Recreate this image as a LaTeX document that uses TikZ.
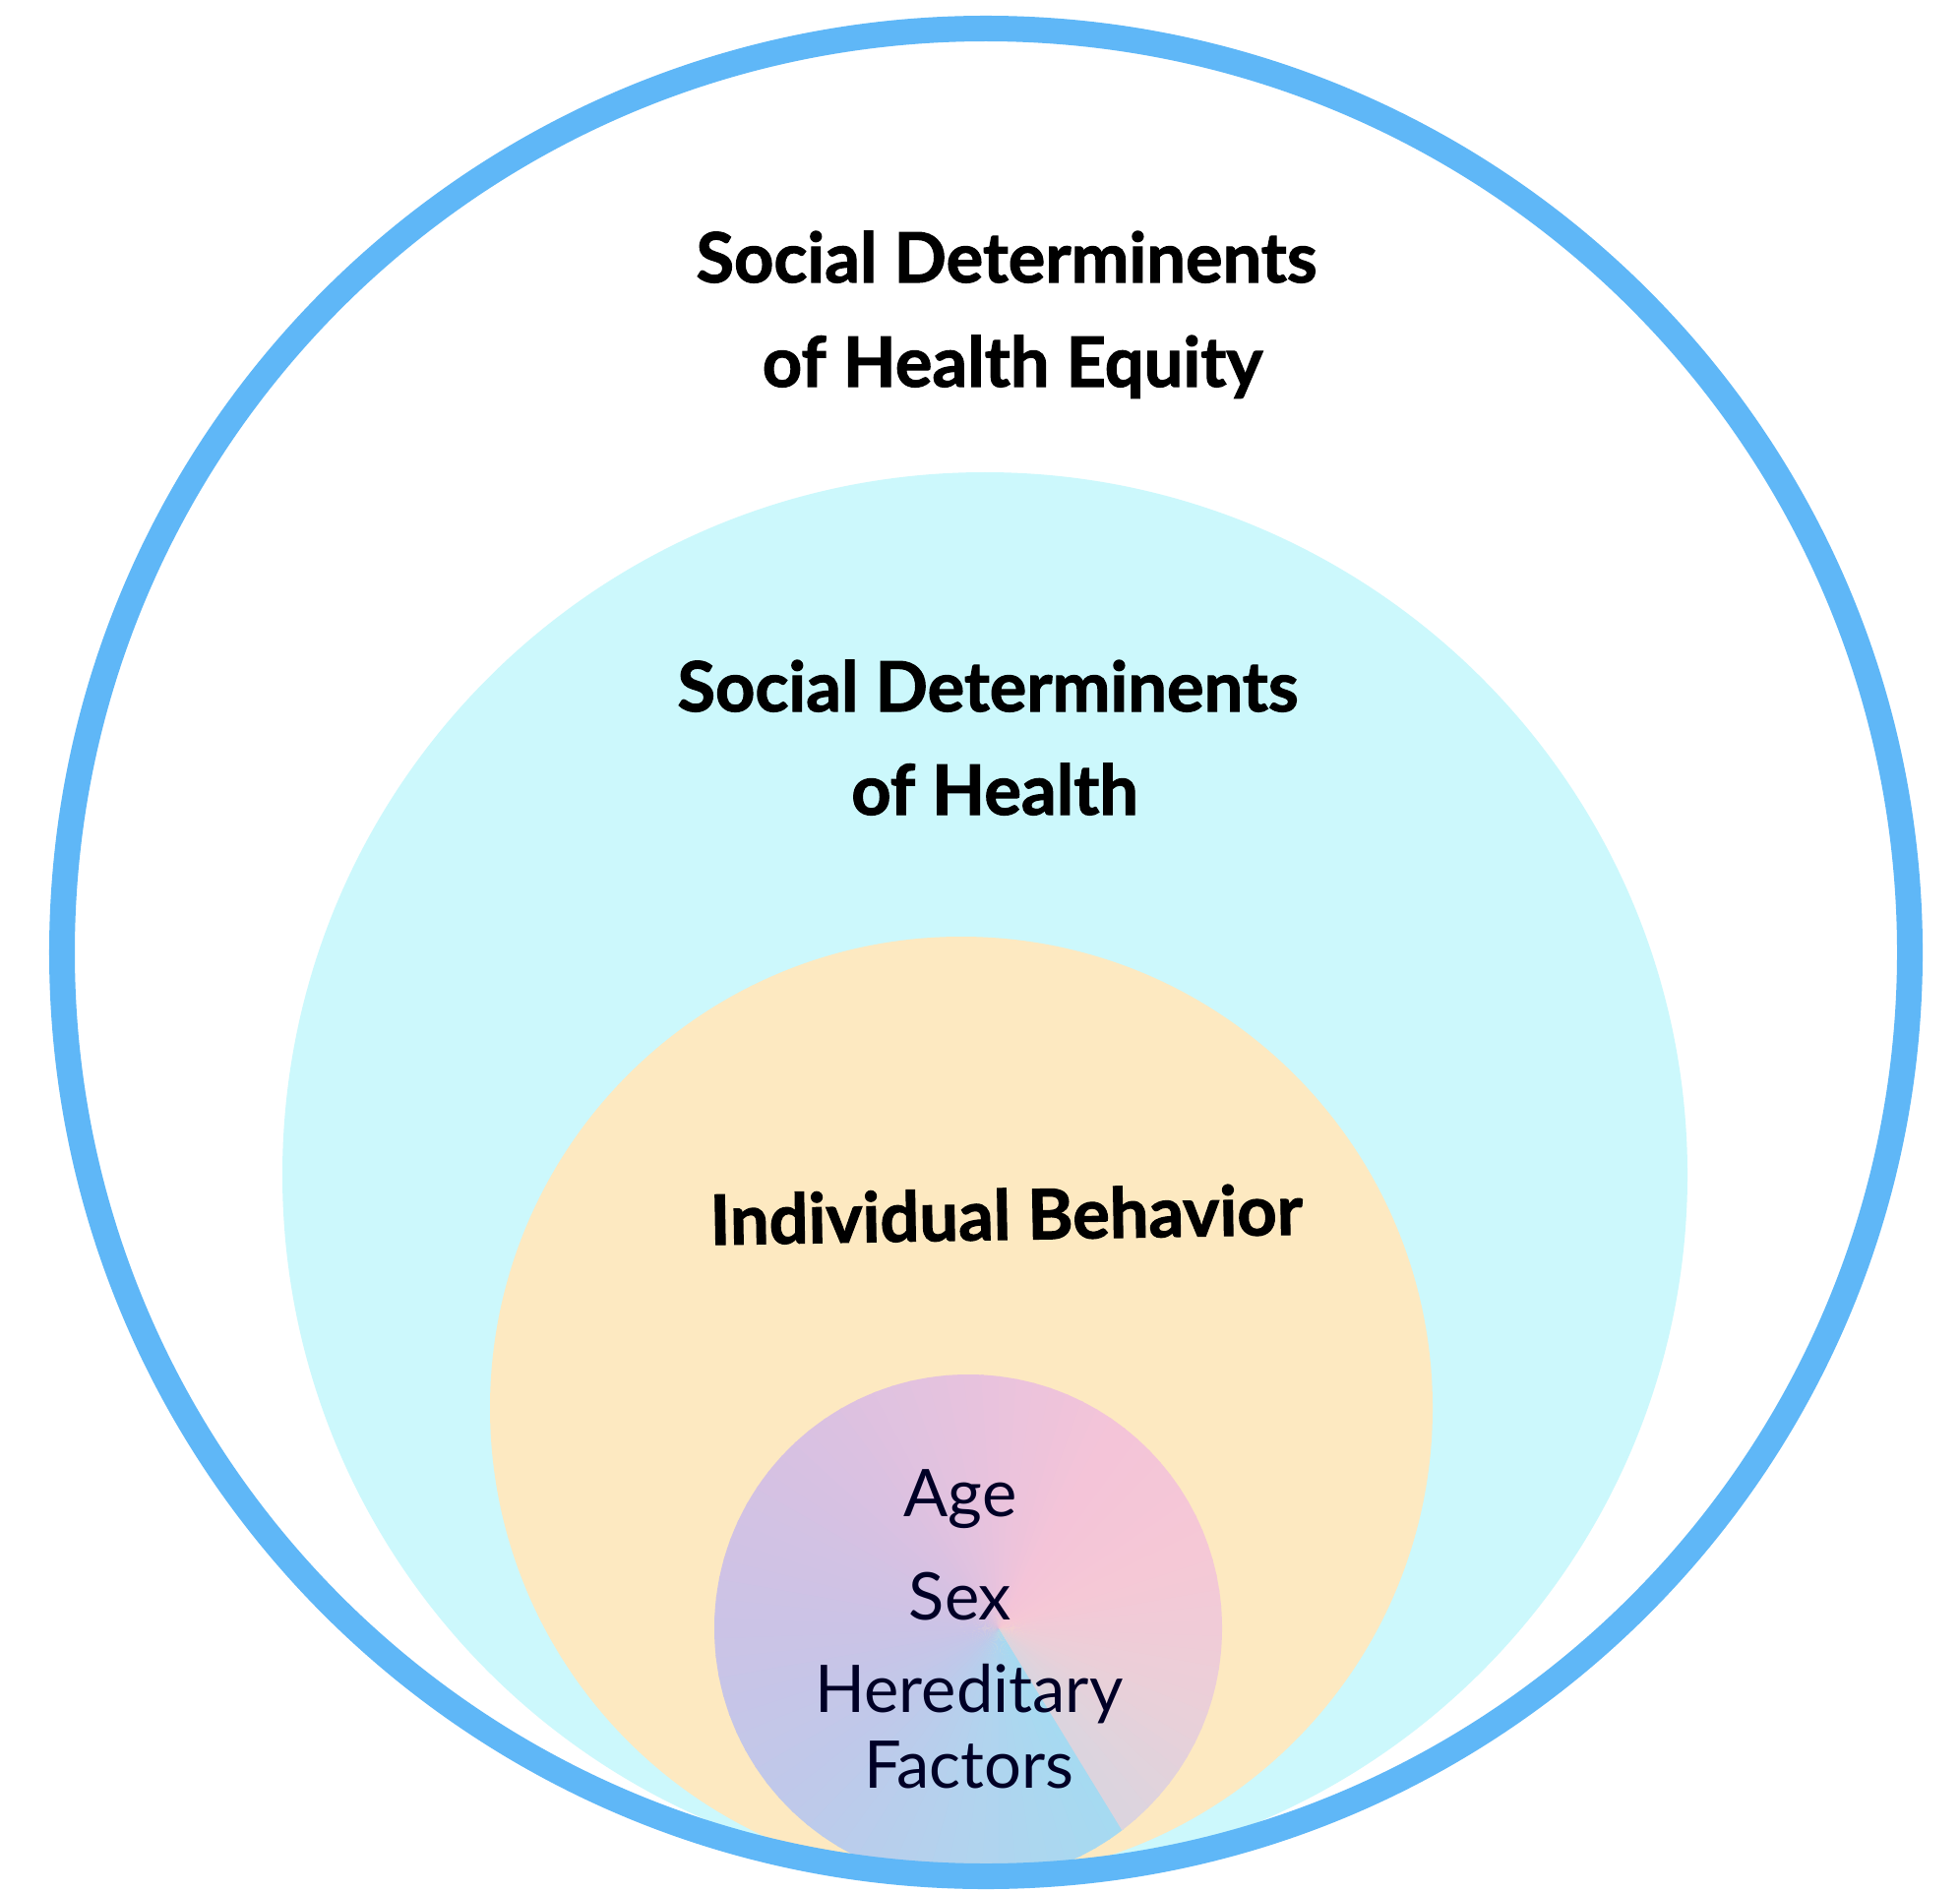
\documentclass[tikz,border=0pt]{standalone}
\usepackage{fontspec}
\setmainfont{Lato}[BoldFeatures={FakeBold=1.6}]

\definecolor{ringblue}{HTML}{5FB7F7}
\definecolor{sdhcyan}{HTML}{CCF8FC}
\definecolor{behavyellow}{HTML}{FDE9C1}
% colour stops round the inner disc, clockwise from the seam
\definecolor{g0}{HTML}{A6DAF1}
\definecolor{g1}{HTML}{B2D3EE}
\definecolor{g2}{HTML}{BFC9EA}
\definecolor{g3}{HTML}{CBC3E6}
\definecolor{g4}{HTML}{D7C1E2}
\definecolor{g5}{HTML}{E6C2DE}
\definecolor{g6}{HTML}{F4C4D8}
\definecolor{g7}{HTML}{F5C8D6}
\definecolor{g8}{HTML}{EBCFD8}
\definecolor{g9}{HTML}{DAD5DF}

\tikzset{
  headline/.style={font=\fontsize{20}{24}\selectfont\bfseries, anchor=base, text=black},
  factorline/.style={font=\fontsize{19}{22}\selectfont, anchor=base, text=black!85!blue},
}

\begin{document}
\begin{tikzpicture}[x=0.01cm, y=-0.01cm]
  \useasboundingbox (0,0) rectangle (1992,1922);
  \fill[white] (0,0) rectangle (1992,1922);

  % nested discs, outside in
  \fill[sdhcyan] (1001,1194) circle (714);
  \fill[behavyellow] (977,1431) circle (479);
  \begin{scope}
    \clip (984,1655) circle (258);
    \coordinate (conic) at (1015,1655);
    \foreach \ca/\cb [count=\k from 0] in {g0/g1,g1/g2,g2/g3,g3/g4,g4/g5,g5/g6,g6/g7,g7/g8,g8/g9}{
      \foreach \s in {0,...,9}{
        \pgfmathsetmacro\ta{58+\k*40+\s*4}
        \pgfmathsetmacro\tb{\ta+4.6}
        \pgfmathtruncatemacro\pc{100-\s*10}
        \path[fill={\ca!\pc!\cb}] (conic) -- +(\ta:600) -- +(\tb:600) -- cycle;
      }
    }
  \end{scope}
  \draw[ringblue, line width=2.6mm] (1002,968) circle (939);

  % labels
  \node[headline] (sdheTop) at (1023,287) {Social Determinents};
  \node[headline] (sdheBot) at (1029,393) {of Health Equity};
  \node[headline] (sdhTop) at (1004,723) {Social Determinents};
  \node[headline] (sdhBot) at (1011,828) {of Health};
  \node[headline, rotate=1] (behav) at (1023,1260) {Individual Behavior};

  \node[factorline] (age) at (976,1541) {Age};
  \node[factorline] (sex) at (976,1646) {Sex};
  \node[factorline] (hered) at (985,1740) {Hereditary};
  \node[factorline] (factors) at (985,1817) {Factors};
\end{tikzpicture}
\end{document}
